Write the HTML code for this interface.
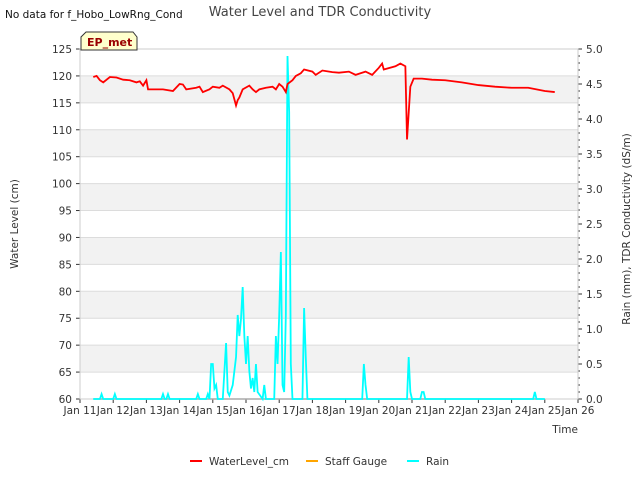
<!DOCTYPE html>
<html><head><meta charset="utf-8"><style>
body{margin:0;background:#fff;font-family:"Liberation Sans",sans-serif;}
svg text{font-family:"DejaVu Sans","Liberation Sans",sans-serif;}
</style></head><body>
<svg id="c" width="640" height="480"></svg>
<script>
const wlDays=[11.4,11.5,11.6,11.7,11.9,12.1,12.3,12.5,12.7,12.8,12.9,13.0,13.05,13.2,13.5,13.8,14.0,14.1,14.2,14.5,14.6,14.7,14.9,15.0,15.2,15.3,15.5,15.6,15.7,15.75,15.8,15.9,16.1,16.2,16.3,16.4,16.6,16.8,16.9,17.0,17.1,17.2,17.25,17.4,17.5,17.65,17.75,18.0,18.1,18.3,18.6,18.8,19.1,19.3,19.6,19.8,20.0,20.1,20.15,20.5,20.65,20.8,20.85,20.95,21.05,21.3,21.6,22,22.5,23,23.5,24,24.5,25,25.3];
const wlVals=[119.8,120,119.2,118.8,119.8,119.7,119.3,119.2,118.8,119,118.2,119.2,117.5,117.5,117.5,117.2,118.5,118.4,117.5,117.8,118,117,117.5,118,117.8,118.2,117.5,116.8,114.5,115.5,116,117.5,118.2,117.5,117,117.5,117.8,118,117.5,118.5,118,117,118.5,119.2,120,120.5,121.2,120.8,120.2,121,120.7,120.6,120.8,120.2,120.8,120.2,121.5,122.3,121.2,121.8,122.3,121.8,108.2,118,119.5,119.5,119.3,119.2,118.8,118.3,118,117.8,117.8,117.2,117];
const rainDays=[11.4,11.6,11.65,11.7,12.0,12.05,12.1,13.45,13.5,13.55,13.6,13.65,13.7,14.5,14.55,14.6,14.8,14.85,14.9,14.95,15.0,15.05,15.1,15.15,15.3,15.4,15.45,15.5,15.6,15.7,15.75,15.8,15.85,15.9,15.95,16.0,16.05,16.1,16.15,16.2,16.25,16.3,16.35,16.5,16.55,16.6,16.85,16.9,16.95,17.0,17.05,17.1,17.15,17.2,17.25,17.3,17.35,17.4,17.7,17.75,17.8,17.85,19.5,19.55,19.6,19.65,20.85,20.9,20.95,21.0,21.25,21.3,21.35,21.4,24.65,24.7,24.75,25.0];
const rainVals=[0,0,0.07,0,0,0.07,0,0,0.07,0,0,0.07,0,0,0.07,0,0,0.07,0,0.5,0.5,0.15,0.2,0,0,0.8,0.1,0.05,0.2,0.6,1.2,0.9,1.15,1.6,0.9,0.5,0.9,0.4,0.15,0.3,0.1,0.5,0.1,0,0.2,0,0,0.9,0.5,1.2,2.1,0.2,0.1,1.2,4.9,4.1,0.5,0,0,1.3,0.6,0,0,0.5,0.2,0,0,0.6,0.1,0,0,0.1,0.1,0,0,0.1,0,0];
const xTicks=["Jan 11","Jan 12","Jan 13","Jan 14","Jan 15","Jan 16","Jan 17","Jan 18","Jan 19","Jan 20","Jan 21","Jan 22","Jan 23","Jan 24","Jan 25","Jan 26"];
const yTicks=[60,65,70,75,80,85,90,95,100,105,110,115,120,125];
const y2Ticks=[0,0.5,1,1.5,2,2.5,3,3.5,4,4.5,5];
const L=80,R=578,T=49,B=399,NS="http://www.w3.org/2000/svg";
const X=d=>L+(d-11)*(R-L)/15, Y=v=>B-(v-60)*(B-T)/65, Y2=r=>B-r*(B-T)/5;
const svg=document.getElementById('c');
function el(t,a,txt){const e=document.createElementNS(NS,t);for(const k in a)e.setAttribute(k,a[k]);if(txt!=null)e.textContent=txt;svg.appendChild(e);return e;}
for(let i=0;i<yTicks.length-1;i++){if(i%2==1){const r=el('rect',{x:L,y:Y(yTicks[i+1]),width:R-L,height:Y(yTicks[i])-Y(yTicks[i+1]),fill:'#f2f2f2'});

}}
yTicks.forEach(v=>{el('line',{x1:L,x2:R,y1:Y(v),y2:Y(v),stroke:'#dcdcdc'});
const t=el('text',{x:L-8,y:Y(v)+4,'text-anchor':'end','font-size':10.5,fill:'#333'},v);


el('line',{x1:L-4,x2:L,y1:Y(v),y2:Y(v),stroke:'#333'});});
y2Ticks.forEach(v=>{const t=el('text',{x:R+8,y:Y2(v)+4,'font-size':10.5,fill:'#333'},v.toFixed(1));


el('line',{x1:R,x2:R+4,y1:Y2(v),y2:Y2(v),stroke:'#333'});});
for(let i=0;i<=50;i++)el('line',{x1:R,x2:R+2,y1:Y2(i*0.1),y2:Y2(i*0.1),stroke:'#333'});
xTicks.forEach((s,i)=>{const t=el('text',{x:X(11+i),y:B+15,'text-anchor':'middle','font-size':10.5,fill:'#333'},s);


el('line',{x1:X(11+i),x2:X(11+i),y1:B,y2:B+4,stroke:'#333'});});
el('rect',{x:L,y:T,width:R-L,height:B-T,fill:'none',stroke:'#ccc'});
el('line',{x1:X(11.4),x2:X(25),y1:B,y2:B,stroke:'#aaa','stroke-width':1.5});
const rp=el('polyline',{points:rainDays.map((d,i)=>X(d)+','+Y2(rainVals[i])).join(' '),fill:'none',stroke:'#00ffff','stroke-width':1.8});


const wp=el('polyline',{points:wlDays.map((d,i)=>X(d)+','+Y(wlVals[i])).join(' '),fill:'none',stroke:'#ff0000','stroke-width':1.8});


let t;
t=el('text',{x:320,y:16,'text-anchor':'middle','font-size':13,fill:'#444'},'Water Level and TDR Conductivity');

t=el('text',{x:5,y:18,'font-size':10.5,fill:'#111'},'No data for f_Hobo_LowRng_Cond');

t=el('path',{d:'M81,50 L81,37 L86,32 L133,32 L137,37 L137,50 Z',fill:'#ffffcc',stroke:'#333'});

t=el('text',{x:87,y:46,'font-size':11,'font-weight':'bold',fill:'#990000'},'EP_met');

t=el('text',{x:18,y:224,'text-anchor':'middle','font-size':10.5,fill:'#333',transform:'rotate(-90 18 224)'},'Water Level (cm)');

t=el('text',{x:630,y:229,'text-anchor':'middle','font-size':10.5,fill:'#333',transform:'rotate(-90 630 229)'},'Rain (mm), TDR Conductivity (dS/m)');

t=el('text',{x:578,y:433,'text-anchor':'end','font-size':10.5,fill:'#333'},'Time');

[['WaterLevel_cm','#ff0000',190],['Staff Gauge','#ffa500',306],['Rain','#00ffff',407]].forEach(l=>{
el('line',{x1:l[2],x2:l[2]+12,y1:461,y2:461,stroke:l[1],'stroke-width':2});
const t=el('text',{x:l[2]+19,y:465,'font-size':10.5,fill:'#333'},l[0]);

});
</script>
</body></html>
